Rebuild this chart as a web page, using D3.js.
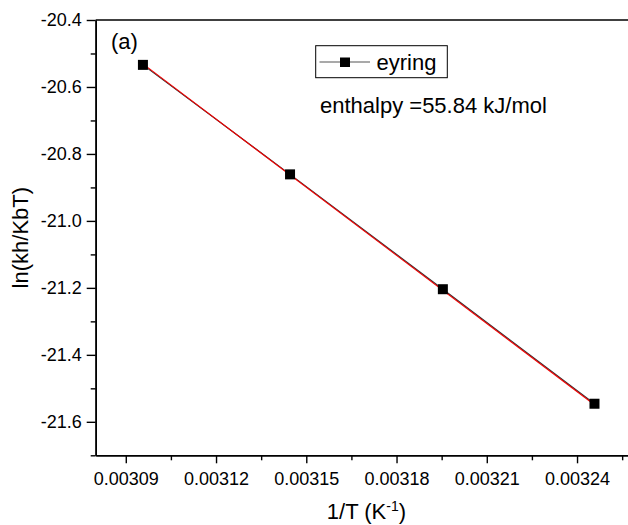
<!DOCTYPE html>
<html>
<head>
<meta charset="utf-8">
<script src="https://cdn.jsdelivr.net/npm/d3@7"></script>
<style>
  body { margin: 0; background: #fff; }
  text { font-family: "Liberation Sans", Arial, sans-serif; fill: #000; }
</style>
</head>
<body>
<svg id="chart" width="628" height="525"></svg>
<script>
// data
var invT = [0.0030957, 0.0031446, 0.0031954, 0.0032458];
var lnK  = [-20.534, -20.861, -21.204, -21.546];
// linear fit end points (red line)
var fitX = [0.0030957, 0.0032458];
var fitY = [-20.531, -21.549];
var xTicks = [0.00309, 0.00312, 0.00315, 0.00318, 0.00321, 0.00324];
var yTicks = [-20.4, -20.6, -20.8, -21.0, -21.2, -21.4, -21.6];
var seriesName = "eyring";
var note = "enthalpy =55.84 kJ/mol";

var svg = d3.select("#chart");
var mLeft = 95.7, mRight = 637.2, mTop = 20, mBottom = 455.3;

var x = d3.scaleLinear().domain([0.00308, 0.00326]).range([mLeft, mRight]);
var y = d3.scaleLinear().domain([-21.7, -20.4]).range([mBottom, mTop]);

// minor ticks halfway between the labelled ones
var xMinor = d3.range(0.003105, 0.00326, 0.00003);
var yMinor = d3.range(-20.5, -21.75, -0.2);

var hyphen = f => (d => f(d).replace("\u2212", "-"));

var xAxis = svg.append("g")
  .attr("transform", `translate(0,${mBottom})`)
  .call(d3.axisBottom(x).tickValues(xTicks).tickSize(8).tickPadding(6)
    .tickFormat(d3.format(".5f")).tickSizeOuter(0));
var xAxisMinor = svg.append("g")
  .attr("transform", `translate(0,${mBottom})`)
  .call(d3.axisBottom(x).tickValues(xMinor).tickSize(5).tickFormat("").tickSizeOuter(0));

var yAxis = svg.append("g")
  .attr("transform", `translate(${mLeft},0)`)
  .call(d3.axisLeft(y).tickValues(yTicks).tickSize(9).tickPadding(5)
    .tickFormat(hyphen(d3.format(".1f"))).tickSizeOuter(0));
var yAxisMinor = svg.append("g")
  .attr("transform", `translate(${mLeft},0)`)
  .call(d3.axisLeft(y).tickValues(yMinor).tickSize(5).tickFormat("").tickSizeOuter(0));

svg.selectAll(".domain").attr("stroke", "#000").attr("stroke-width", 1.6);
svg.selectAll(".tick line").attr("stroke", "#000").attr("stroke-width", 1.4);
svg.selectAll(".tick text").style("font-size", "18px").attr("fill", "#000")
  .style("font-family", "'Liberation Sans', Arial, sans-serif");
xAxis.selectAll(".tick text").attr("dy", "0.9em");

// frame lines
svg.append("line")
  .attr("x1", mLeft).attr("x2", mRight)
  .attr("y1", mTop).attr("y2", mTop)
  .attr("stroke", "#000").attr("stroke-width", 1.6);
svg.append("line")
  .attr("x1", mRight).attr("x2", mRight)
  .attr("y1", mTop).attr("y2", mBottom)
  .attr("stroke", "#000").attr("stroke-width", 1.6);

var pts = invT.map((d, i) => ({x: d, y: lnK[i]}));

svg.append("path")
  .datum(pts)
  .attr("fill", "none")
  .attr("stroke", "#333")
  .attr("stroke-width", 1.2)
  .attr("d", d3.line().x(d => x(d.x)).y(d => y(d.y)));

svg.append("path")
  .datum(fitX.map((d, i) => ({x: d, y: fitY[i]})))
  .attr("fill", "none")
  .attr("stroke", "#f00000")
  .attr("stroke-width", 1.1)
  .attr("d", d3.line().x(d => x(d.x)).y(d => y(d.y)));

var sq = 10;
svg.selectAll("rect.pt")
  .data(pts).enter().append("rect")
  .attr("class", "pt")
  .attr("x", d => x(d.x) - sq / 2)
  .attr("y", d => y(d.y) - sq / 2)
  .attr("width", sq).attr("height", sq)
  .attr("fill", "#000");

// panel label
svg.append("text")
  .attr("x", 111).attr("y", 49)
  .style("font-size", "22px")
  .text("(a)");

// legend
var lg = svg.append("g");
lg.append("rect")
  .attr("x", 315.7).attr("y", 45.7)
  .attr("width", 131.6).attr("height", 32)
  .attr("fill", "#fff").attr("stroke", "#000").attr("stroke-width", 1);
lg.append("line")
  .attr("x1", 319.5).attr("x2", 370).attr("y1", 62).attr("y2", 62)
  .attr("stroke", "#555").attr("stroke-width", 1.2);
lg.append("rect")
  .attr("x", 340).attr("y", 57.5).attr("width", 10).attr("height", 9.5)
  .attr("fill", "#000");
lg.append("text")
  .attr("x", 376.5).attr("y", 69.5)
  .style("font-size", "22px")
  .text(seriesName);

svg.append("text")
  .attr("x", 320).attr("y", 113)
  .style("font-size", "22px")
  .text(note);

// axis titles
svg.append("text")
  .attr("transform", `translate(28.3,${(mTop + mBottom) / 2}) rotate(-90)`)
  .attr("text-anchor", "middle")
  .style("font-size", "22px")
  .text("ln(kh/KbT)");

var xt = svg.append("text")
  .attr("x", (mLeft + mRight) / 2).attr("y", 519)
  .attr("text-anchor", "middle")
  .style("font-size", "22px");
xt.append("tspan").text("1/T (K");
xt.append("tspan").attr("dy", -8).style("font-size", "14px").text("-1");
xt.append("tspan").attr("dy", 8).text(")");
</script>
</body>
</html>
